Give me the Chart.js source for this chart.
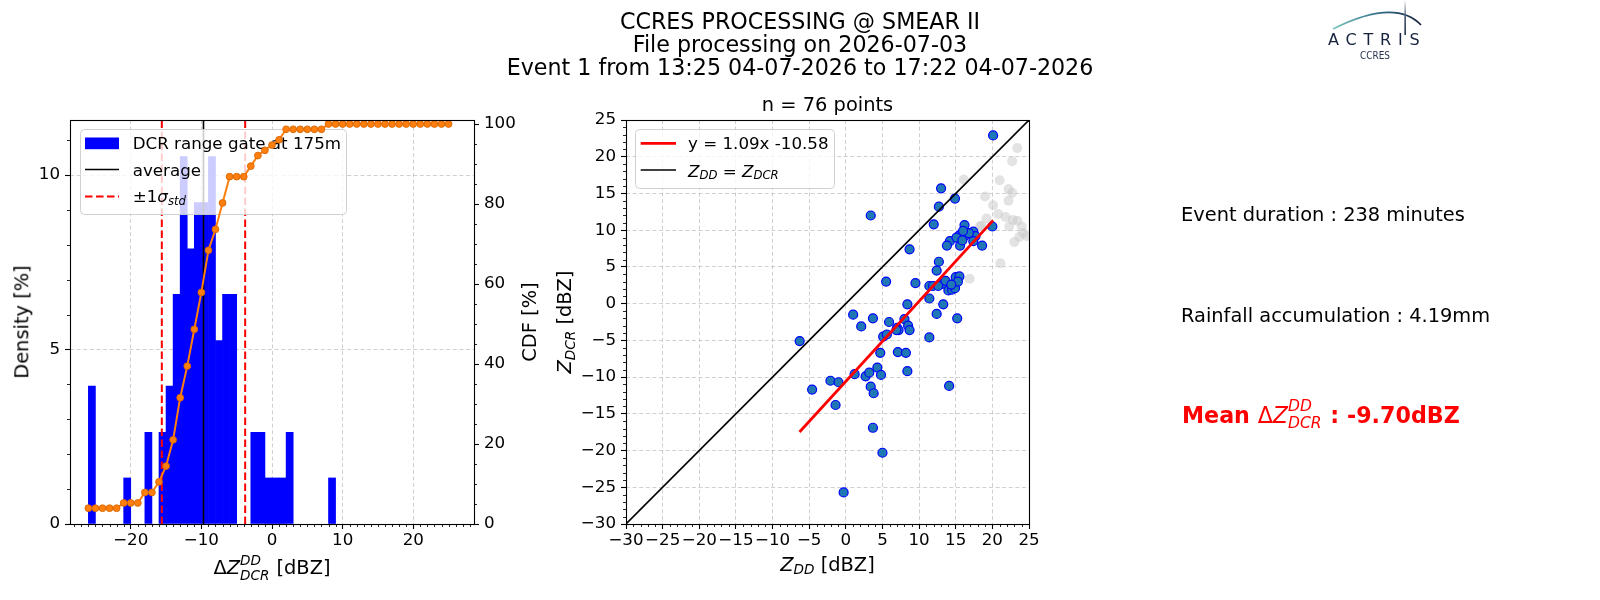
<!DOCTYPE html>
<html>
<head>
<meta charset="utf-8">
<title>CCRES PROCESSING @ SMEAR II</title>
<script src="https://cdn.jsdelivr.net/npm/chart.js@4.4.1/dist/chart.umd.min.js"></script>
<style>
html, body { margin:0; padding:0; background:#fff; }
#fig { position:relative; width:1600px; height:600px; overflow:hidden; background:#fff; font-family:"DejaVu Sans", sans-serif; color:#000; }
#fig canvas { position:absolute; left:0; top:0; }
.lbl { position:absolute; line-height:1; white-space:nowrap; }
.ctr { transform: translateX(-50%); }
.rot { transform: translate(-50%,-50%) rotate(-90deg); }
.it { font-style:italic; }
.sb1 { font-size:0.7em; font-style:italic; vertical-align:-0.25em; line-height:0; }
.ms { display:inline-block; position:relative; width:1.56em; height:0.8em; }
.ms .sp, .ms .sb { position:absolute; left:0; font-size:0.7em; font-style:italic; line-height:1; font-weight:normal; }
.ms .sp { bottom:0.49em; }
.ms .sb { top:0.75em; }
</style>
</head>
<body>
<div id="fig">
  <canvas id="c1" width="1600" height="600"></canvas>
  <canvas id="c2" width="1600" height="600"></canvas>

  <div class="lbl ctr" style="left:800px;top:10px;font-size:22.2px;">CCRES PROCESSING @ SMEAR II</div>
  <div class="lbl ctr" style="left:800px;top:33px;font-size:22.2px;">File processing on 2026-07-03</div>
  <div class="lbl ctr" style="left:800px;top:55.8px;font-size:22.2px;">Event 1 from 13:25 04-07-2026 to 17:22 04-07-2026</div>

  <div class="lbl ctr" style="left:827.5px;top:95.3px;font-size:19.4px;">n = 76 points</div>

  <div class="lbl rot" style="left:21.8px;top:322px;font-size:19.4px;">Density [%]</div>
  <div class="lbl rot" style="left:529.5px;top:322px;font-size:19.4px;">CDF [%]</div>
  <div class="lbl rot" style="left:564.5px;top:322px;font-size:19.4px;"><span class="it">Z</span><span class="sb1">DCR</span> [dBZ]</div>

  <div class="lbl ctr" style="left:272px;top:558.3px;font-size:19.4px;">Δ<span class="it">Z</span><span class="ms"><span class="sp">DD</span><span class="sb">DCR</span></span> [dBZ]</div>
  <div class="lbl ctr" style="left:827.5px;top:555.4px;font-size:19.4px;"><span class="it">Z</span><span class="sb1">DD</span> [dBZ]</div>

  <div class="lbl" style="left:1181px;top:205.3px;font-size:19.4px;">Event duration : 238 minutes</div>
  <div class="lbl" style="left:1181px;top:305.9px;font-size:19.4px;">Rainfall accumulation : 4.19mm</div>
  <div class="lbl" style="left:1182px;top:403.5px;font-size:22.2px;color:#ff0000;font-weight:bold;">Mean <span style="font-weight:normal">Δ<span class="it">Z</span><span class="ms"><span class="sp">DD</span><span class="sb">DCR</span></span></span> : -9.70dBZ</div>

  <svg style="position:absolute;left:1320px;top:0px;" width="110" height="64">
    <defs>
      <linearGradient id="arcg" x1="0" y1="0" x2="1" y2="0">
        <stop offset="0" stop-color="#7cc6c0"/>
        <stop offset="0.55" stop-color="#2f6a84"/>
        <stop offset="1" stop-color="#17223f"/>
      </linearGradient>
      <linearGradient id="vg" x1="0" y1="0" x2="0" y2="1">
        <stop offset="0" stop-color="#ffffff"/>
        <stop offset="0.5" stop-color="#3a4a6a"/>
        <stop offset="1" stop-color="#17223f"/>
      </linearGradient>
    </defs>
    <path d="M13 29 Q 75 -2 101 25" stroke="url(#arcg)" stroke-width="1.8" fill="none"/>
    <rect x="84.4" y="0" width="1.5" height="35" fill="url(#vg)"/>
  </svg>
  <div class="lbl" style="left:1328px;top:32.2px;font-size:16px;letter-spacing:6.8px;color:#17223f;">ACTRIS</div>
  <div class="lbl" style="left:1360px;top:50.4px;font-size:10.5px;color:#2b3450;transform:scaleX(0.85);transform-origin:left top;">CCRES</div>
</div>

<script>
// ---------------- Data ----------------
// Histogram of the reflectivity difference (bins of 1 dBZ, centres)
const binCenters = [-25.5, -20.5, -17.5, -15.5, -14.5, -13.5, -12.5, -11.5, -10.5, -9.5, -8.5, -7.5, -6.5, -5.5, -2.5, -1.5, -0.5, 0.5, 1.5, 2.5, 8.5];
const densityPct = [3.95, 1.32, 2.63, 2.63, 3.95, 6.58, 10.53, 7.89, 9.21, 9.21, 10.53, 5.26, 6.58, 6.58, 2.63, 2.63, 1.32, 1.32, 1.32, 2.63, 1.32];

// CDF points
const cdfX = [-26, -25, -24, -23, -22, -21, -20, -19, -18, -17, -16, -15, -14, -13, -12, -11, -10, -9, -8, -7, -6, -5, -4, -3, -2, -1, 0, 1, 2, 3, 4, 5, 6, 7, 8, 9, 10, 11, 12, 13, 14, 15, 16, 17, 18, 19, 20, 21, 22, 23, 24, 25];
const cdfPct = [3.95, 3.95, 3.95, 3.95, 3.95, 5.26, 5.26, 5.26, 7.89, 7.89, 10.53, 14.47, 21.05, 31.58, 39.47, 48.68, 57.89, 68.42, 73.68, 80.26, 86.84, 86.84, 86.84, 89.47, 92.11, 93.42, 94.74, 96.05, 98.68, 98.68, 98.68, 98.68, 98.68, 98.68, 100, 100, 100, 100, 100, 100, 100, 100, 100, 100, 100, 100, 100, 100, 100, 100, 100, 100];

const meanDelta = -9.70;
const sigmaLow = -15.6;
const sigmaHigh = -3.8;

// Tick values
const histXTicks = [-20, -10, 0, 10, 20];
const densityTicks = [0, 5, 10];
const cdfTicks = [0, 20, 40, 60, 80, 100];
const scatterTicks = [-30, -25, -20, -15, -10, -5, 0, 5, 10, 15, 20, 25];

// Scatter: selected points (blue)
const zddBlue = [-6.3,-4.6,-2.1,-1.0,-1.4,-0.3,1.0,2.1,3.7,1.2,
  2.7,3.2,4.3,4.8,3.4,3.8,3.7,5.0,4.7,5.5,
  5.9,5.1,5.6,7.1,8.2,8.4,7.0,7.2,8.0,8.5,
  8.7,8.4,9.5,11.4,11.4,11.4,11.9,12.4,13.3,15.2,
  14.1,12.7,12.4,13.2,13.6,14.0,14.5,14.9,15.0,15.5,
  15.3,14.4,20.1,13.0,14.9,12.7,3.4,12.0,16.2,20.0,
  8.7,14.2,13.8,15.5,15.6,17.4,17.7,17.4,18.6,16.2,
  15.1,16.8,15.9,12.6,6.9,16.0];
const zdcrBlue = [-5.1,-11.7,-10.5,-10.7,-13.8,-25.7,-1.5,-3.1,-2.0,-9.6,
  -9.9,-9.4,-8.7,-9.7,-11.3,-12.2,-16.9,-20.3,-6.7,3.0,
  -2.5,-4.5,-4.2,-6.6,-6.7,-9.2,-3.3,-3.6,-2.1,-3.0,
  -3.6,-0.1,2.8,-4.6,0.7,2.4,2.4,-1.4,-0.1,-2.0,
  -11.2,5.7,4.5,2.7,3.1,1.8,1.9,2.1,3.6,3.7,
  3.0,2.6,22.9,15.7,14.3,13.2,12.0,10.8,10.7,10.5,
  7.4,8.5,7.9,9.3,7.9,9.8,9.2,8.5,7.9,9.2,
  9.0,9.6,8.6,2.4,-3.6,9.9];

// Scatter: rejected points (grey)
const zddGrey = [23.4,22.7,21.0,16.1,22.2,22.7,19.0,22.2,20.1,20.8,21.8,19.2,22.8,23.4,22.3,24.0,24.2,24.7,23.7,23.0,18.3,21.1,16.9,18.5];
const zdcrGrey = [21.2,19.4,16.8,16.9,15.6,15.1,14.6,14.0,13.4,12.2,11.8,11.6,11.4,11.3,10.5,10.5,9.6,9.2,9.1,8.4,10.5,5.5,3.4,10.6];

// Linear fit y = 1.09x - 10.58 (end points) and 1:1 line
const fitX = [-6.32, 20.1];
const fitY = [-17.47, 11.33];
const oneToOne = [-30, 25];

// Axis limits
const histXMin = -28.6, histXMax = 28.6;
const densityMax = 11.58;
const cdfMax = 101;
const scatMin = -30, scatMax = 25;

// ---------------- Helpers ----------------
const FONT = 'DejaVu Sans';
Chart.defaults.font.family = FONT;
const tickFont = { family: FONT, size: 16.7 };
const fmtTick = (v) => String(v).replace('-', '\u2212');
const fixedTicks = (arr) => (s) => { s.ticks = arr.map(v => ({ value: v })); };
const gridBase = { color: 'rgba(176,176,176,0.6)', lineWidth: 1, drawTicks: true, tickLength: 5, tickColor: '#000', tickWidth: 1.1, offset: false };
const borderBase = { display: false, dash: [4, 2.6] };
function minorRange(a, b, step, majorStep) {
  const out = [];
  for (let v = a; v <= b + 1e-9; v += step) {
    const r = Math.round(v * 1000) / 1000;
    if (Math.abs(r / majorStep - Math.round(r / majorStep)) > 1e-6) out.push(r);
  }
  return out;
}

const decorPlugin = {
  id: 'decor',
  afterDatasetsDraw(chart, args, opts) {
    const ctx = chart.ctx, ca = chart.chartArea;
    ctx.save();
    ctx.strokeStyle = '#000';
    ctx.setLineDash([]);
    ctx.lineWidth = 0.85;
    (opts.minor || []).forEach(m => {
      const s = chart.scales[m.axis];
      m.values.forEach(v => {
        const p = Math.round(s.getPixelForValue(v)) + 0.5;
        ctx.beginPath();
        if (s.position === 'bottom') { ctx.moveTo(p, ca.bottom); ctx.lineTo(p, ca.bottom + 3); }
        else if (s.position === 'left') { ctx.moveTo(ca.left - 3, p); ctx.lineTo(ca.left, p); }
        else { ctx.moveTo(ca.right, p); ctx.lineTo(ca.right + 3, p); }
        ctx.stroke();
      });
    });
    ctx.lineWidth = 1.1;
    ctx.strokeRect(ca.left + 0.5, ca.top + 0.5, ca.right - ca.left, ca.bottom - ca.top);
    ctx.restore();
  }
};

function roundRectPath(ctx, x, y, w, h, r) {
  ctx.beginPath();
  ctx.moveTo(x + r, y);
  ctx.lineTo(x + w - r, y); ctx.arcTo(x + w, y, x + w, y + r, r);
  ctx.lineTo(x + w, y + h - r); ctx.arcTo(x + w, y + h, x + w - r, y + h, r);
  ctx.lineTo(x + r, y + h); ctx.arcTo(x, y + h, x, y + h - r, r);
  ctx.lineTo(x, y + r); ctx.arcTo(x, y, x + r, y, r);
  ctx.closePath();
}
function legendBox(ctx, x, y, w, h) {
  ctx.save();
  roundRectPath(ctx, x + 0.5, y + 0.5, w, h, 4);
  ctx.fillStyle = 'rgba(255,255,255,0.8)';
  ctx.fill();
  ctx.strokeStyle = 'rgba(204,204,204,0.9)';
  ctx.lineWidth = 1;
  ctx.stroke();
  ctx.restore();
}
function legendLine(ctx, x1, x2, y, color, width, dash) {
  ctx.save();
  ctx.strokeStyle = color; ctx.lineWidth = width; ctx.setLineDash(dash || []);
  ctx.beginPath(); ctx.moveTo(x1, y); ctx.lineTo(x2, y); ctx.stroke();
  ctx.restore();
}
function richText(ctx, parts, x, y, size) {
  ctx.save();
  ctx.fillStyle = '#000';
  ctx.textBaseline = 'alphabetic';
  ctx.textAlign = 'left';
  let cx = x;
  parts.forEach(p => {
    const fs = p.sub ? size * 0.7 : size;
    ctx.font = (p.it ? 'italic ' : '') + fs + 'px "' + FONT + '"';
    const dy = p.sub ? size * 0.17 : 0;
    ctx.fillText(p.t, cx, y + dy);
    cx += ctx.measureText(p.t).width;
  });
  ctx.restore();
}

const histLegendPlugin = {
  id: 'histLegend',
  beforeDatasetDraw(chart, args) {
    if (args.index !== 0) return;
    const ctx = chart.ctx;
    legendBox(ctx, 80, 129, 266, 85);
    ctx.save(); ctx.fillStyle = '#0000ff'; ctx.fillRect(85, 137.5, 34, 11.7); ctx.restore();
    richText(ctx, [{ t: 'DCR range gate at 175m' }], 132.7, 149.3, 16.7);
    legendLine(ctx, 85, 119, 169.5, '#000', 1.6);
    richText(ctx, [{ t: 'average' }], 132.7, 175.7, 16.7);
    legendLine(ctx, 85, 119, 196.5, '#ff0000', 2, [7.5, 3.5]);
    richText(ctx, [{ t: '\u00b11' }, { t: '\u03c3', it: true }, { t: 'std', it: true, sub: true }], 132.7, 202, 16.7);
  }
};

const scatLegendPlugin = {
  id: 'scatLegend',
  afterDatasetsDraw(chart) {
    const ctx = chart.ctx;
    legendBox(ctx, 635, 129, 199, 59);
    legendLine(ctx, 640.7, 676, 143.3, '#ff0000', 2.8);
    richText(ctx, [{ t: 'y = 1.09x -10.58' }], 688, 149, 16.7);
    legendLine(ctx, 640.7, 676, 170, '#000', 1.6);
    richText(ctx, [{ t: 'Z', it: true }, { t: 'DD', it: true, sub: true }, { t: ' = ' }, { t: 'Z', it: true }, { t: 'DCR', it: true, sub: true }], 688, 176.5, 16.7);
  }
};

// ---------------- Histogram + CDF ----------------
new Chart(document.getElementById('c1'), {
  type: 'bar',
  data: {
    datasets: [
      { type: 'line', label: 'CDF', yAxisID: 'y2', order: 0,
        data: cdfX.map((x, i) => ({ x: x, y: cdfPct[i] })),
        borderColor: '#ff7f0e', borderWidth: 2, tension: 0,
        pointRadius: 3.4, pointBackgroundColor: '#ff7f0e', pointBorderColor: '#d86600', pointBorderWidth: 0.9 },
      { type: 'line', label: 'average', yAxisID: 'y', order: 5,
        data: [{ x: meanDelta, y: 0 }, { x: meanDelta, y: densityMax }],
        borderColor: '#000', borderWidth: 1.6, pointRadius: 0 },
      { type: 'line', label: '-1 sigma', yAxisID: 'y', order: 5,
        data: [{ x: sigmaLow, y: 0 }, { x: sigmaLow, y: densityMax }],
        borderColor: '#ff0000', borderWidth: 2, borderDash: [7.5, 3.5], pointRadius: 0 },
      { type: 'line', label: '+1 sigma', yAxisID: 'y', order: 5,
        data: [{ x: sigmaHigh, y: 0 }, { x: sigmaHigh, y: densityMax }],
        borderColor: '#ff0000', borderWidth: 2, borderDash: [7.5, 3.5], pointRadius: 0 },
      { type: 'bar', label: 'DCR range gate at 175m', yAxisID: 'y', order: 10,
        data: binCenters.map((x, i) => ({ x: x, y: densityPct[i] })),
        backgroundColor: '#0000ff', borderWidth: 0, barPercentage: 1, categoryPercentage: 1, grouped: false }
    ]
  },
  options: {
    responsive: false, animation: false, events: [],
    layout: { padding: { left: 20, right: 1076, top: 120, bottom: 36 } },
    plugins: {
      legend: { display: false }, tooltip: { enabled: false },
      decor: { minor: [
        { axis: 'x', values: minorRange(-28, 28, 1, 10) },
        { axis: 'y', values: minorRange(1, 11, 1, 5) },
        { axis: 'y2', values: minorRange(5, 100, 5, 20) }
      ] }
    },
    scales: {
      x: { type: 'linear', min: histXMin, max: histXMax, offset: false,
        afterBuildTicks: fixedTicks(histXTicks), afterFit: (s) => { s.height = 40; },
        ticks: { font: tickFont, color: '#000', padding: 2, autoSkip: false, maxRotation: 0, callback: fmtTick },
        grid: Object.assign({}, gridBase), border: Object.assign({}, borderBase) },
      y: { type: 'linear', position: 'left', min: 0, max: densityMax,
        afterBuildTicks: fixedTicks(densityTicks), afterFit: (s) => { s.width = 50; },
        ticks: { font: tickFont, color: '#000', padding: 5, autoSkip: false, callback: fmtTick },
        grid: Object.assign({}, gridBase), border: Object.assign({}, borderBase) },
      y2: { type: 'linear', position: 'right', min: 0, max: cdfMax,
        afterBuildTicks: fixedTicks(cdfTicks), afterFit: (s) => { s.width = 50; },
        ticks: { font: tickFont, color: '#000', padding: 5, autoSkip: false, callback: fmtTick },
        grid: Object.assign({}, gridBase, { drawOnChartArea: false }), border: { display: false } }
    }
  },
  plugins: [decorPlugin, histLegendPlugin]
});

// ---------------- Scatter ----------------
new Chart(document.getElementById('c2'), {
  type: 'scatter',
  data: {
    datasets: [
      { label: 'rejected', order: 10, clip: 0,
        data: zddGrey.map((x, i) => ({ x: x, y: zdcrGrey[i] })),
        pointRadius: 5, backgroundColor: 'rgba(200,200,200,0.5)', pointBackgroundColor: 'rgba(200,200,200,0.5)', borderWidth: 0, pointBorderWidth: 0 },
      { label: 'selected', order: 6, clip: 0,
        data: zddBlue.map((x, i) => ({ x: x, y: zdcrBlue[i] })),
        pointRadius: 4.5, backgroundColor: '#1f77b4', pointBackgroundColor: '#1f77b4', borderColor: '#0000ff', pointBorderColor: '#0000ff', borderWidth: 1.2, pointBorderWidth: 1.2 },
      { type: 'line', label: 'ZDD = ZDCR', order: 3, clip: 0,
        data: oneToOne.map(v => ({ x: v, y: v })),
        borderColor: '#000', borderWidth: 1.6, pointRadius: 0, showLine: true },
      { type: 'line', label: 'y = 1.09x -10.58', order: 1,
        data: fitX.map((x, i) => ({ x: x, y: fitY[i] })),
        borderColor: '#ff0000', borderWidth: 2.8, pointRadius: 0, showLine: true }
    ]
  },
  options: {
    responsive: false, animation: false, events: [],
    layout: { padding: { left: 576, right: 571, top: 120, bottom: 36 } },
    plugins: {
      legend: { display: false }, tooltip: { enabled: false },
      decor: { minor: [
        { axis: 'x', values: minorRange(-29, 24, 1, 5) },
        { axis: 'y', values: minorRange(-29, 24, 1, 5) }
      ] }
    },
    scales: {
      x: { type: 'linear', position: 'bottom', min: scatMin, max: scatMax,
        afterBuildTicks: fixedTicks(scatterTicks), afterFit: (s) => { s.height = 40; },
        ticks: { font: tickFont, color: '#000', padding: 2, autoSkip: false, maxRotation: 0, callback: fmtTick },
        grid: Object.assign({}, gridBase), border: Object.assign({}, borderBase) },
      y: { type: 'linear', position: 'left', min: scatMin, max: scatMax,
        afterBuildTicks: fixedTicks(scatterTicks), afterFit: (s) => { s.width = 50; },
        ticks: { font: tickFont, color: '#000', padding: 5, autoSkip: false, callback: fmtTick },
        grid: Object.assign({}, gridBase), border: Object.assign({}, borderBase) }
    }
  },
  plugins: [decorPlugin, scatLegendPlugin]
});
</script>
</body>
</html>
